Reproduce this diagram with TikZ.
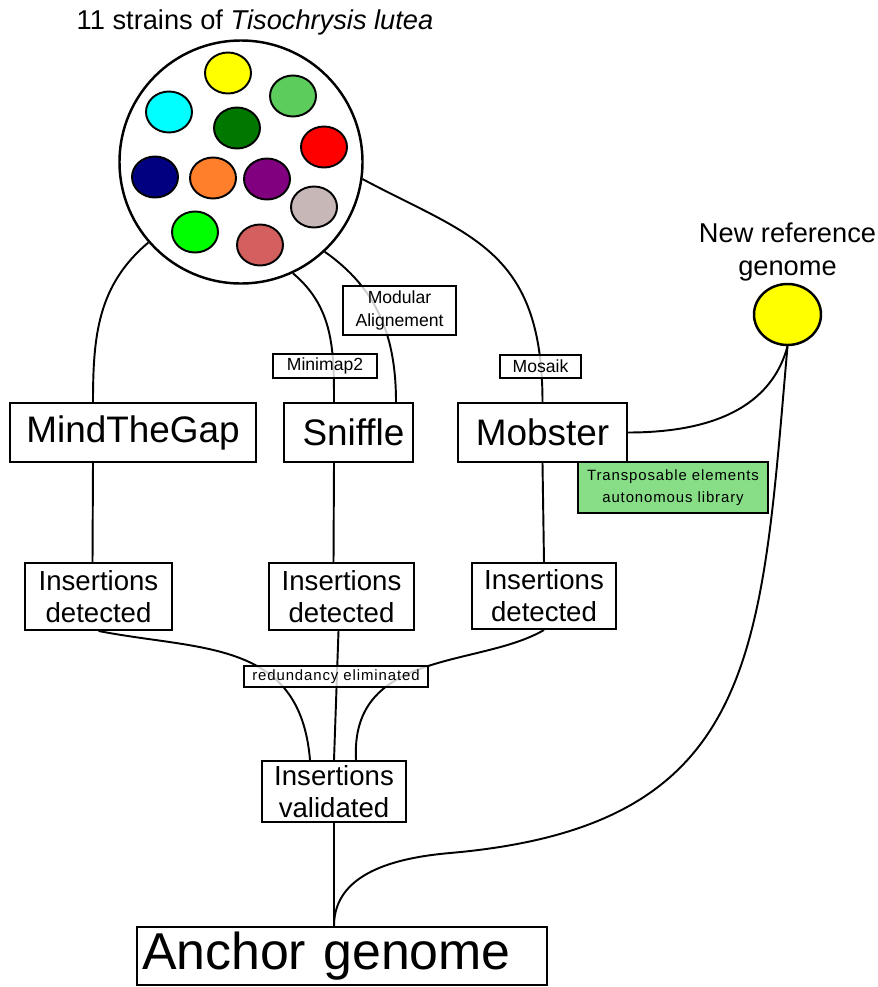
\documentclass[tikz,border=0pt]{standalone}
\usepackage{fontspec}
\setmainfont{Liberation Sans}
\newfontfamily\spacedfont[LetterSpace=6]{Liberation Sans}
\usepackage{tikz}
\usetikzlibrary{shapes.geometric}
\usetikzlibrary{positioning}

\definecolor{sunyellow}{HTML}{FFFF00}
\definecolor{aqua}{HTML}{00FFFF}
\definecolor{leafgreen}{HTML}{5CCD5C}
\definecolor{forestgreen}{HTML}{007800}
\definecolor{brightred}{HTML}{FF0000}
\definecolor{navyblue}{HTML}{000080}
\definecolor{tangerine}{HTML}{FF7F2A}
\definecolor{plum}{HTML}{800080}
\definecolor{ashrose}{HTML}{C8B7B7}
\definecolor{brightgreen}{HTML}{00FF00}
\definecolor{brickrose}{HTML}{D35F5F}
\definecolor{tegreen}{HTML}{87DE87}

\tikzset{
  box/.style={rectangle, draw=black, line width=1.1pt, inner sep=0pt, align=center},
  tool/.style={box, minimum height=1.18cm, font=\fontsize{21}{25}\selectfont},
  insbox/.style={box, font=\fontsize{15.7}{18.2}\selectfont},
  tag/.style={box, line width=1pt, fill=white, fill opacity=0.8, text opacity=1, font=\fontsize{10}{13}\selectfont},
  link/.style={line width=1.1pt},
  strain/.style={draw=black, line width=1.1pt}
}

\begin{document}
\begin{tikzpicture}
            \useasboundingbox (0,0) rectangle (17.54,-19.74);

            % the strains and the tools
            \node [circle, draw=black, line width=1.4pt, minimum size=4.86cm] (strains) at (4.82,-3.24) {};
            \node [above of = strains, node distance = 2.8cm, xshift=0.28cm, font=\fontsize{15.5}{18}\selectfont] (title) {11 strains of \textit{Tisochrysis lutea}};
            \foreach \dx/\dy/\col in {-0.26/1.78/sunyellow, -1.44/1.00/aqua, 1.04/1.32/leafgreen, -0.08/0.68/forestgreen, 1.66/0.30/brightred, -1.72/-0.30/navyblue, -0.56/-0.32/tangerine, 0.52/-0.34/plum, 1.46/-0.90/ashrose, -0.92/-1.40/brightgreen, 0.38/-1.66/brickrose}
                \draw [strain, fill=\col] ([shift={(\dx,\dy)}]strains.center) ellipse (0.46cm and 0.41cm);

            \node [tool, minimum width=4.92cm] (mtg) at (2.66,-8.65) {MindTheGap};
            \node [tool, minimum width=2.58cm, right of = mtg, node distance = 4.31cm] (sniffle) {\hspace{0.2cm}Sniffle};
            \node [tool, minimum width=3.38cm, right of = sniffle, node distance = 3.88cm] (mobster) {Mobster};
            \node [box, fill=tegreen, minimum width=3.8cm, minimum height=1.02cm, right of = mobster, node distance = 2.61cm, yshift=-1.1cm, font=\spacedfont\fontsize{8.5}{12.5}\selectfont] (library) {Transposable elements\\autonomous library};

            \node [ellipse, draw=black, line width=1.4pt, fill=sunyellow, minimum width=1.34cm, minimum height=1.22cm] (newref) at (15.75,-6.29) {};
            \node [above of = newref, node distance = 1.25cm, align=center, font=\fontsize{15.5}{18.7}\selectfont] (newreflabel) {New reference\\genome};

            % insertions
            \node [insbox, minimum width=2.94cm, minimum height=1.34cm, below of = mtg, node distance = 3.28cm, xshift=-0.69cm] (det1) {Insertions\\detected};
            \node [insbox, minimum width=2.90cm, minimum height=1.34cm, below of = sniffle, node distance = 3.28cm, xshift=-0.14cm] (det2) {Insertions\\detected};
            \node [insbox, minimum width=2.88cm, minimum height=1.32cm, below of = mobster, node distance = 3.27cm, xshift=0.03cm] (det3) {Insertions\\detected};
            \node [insbox, minimum width=2.88cm, minimum height=1.22cm, below of = det2, node distance = 3.9cm, xshift=-0.15cm] (valid) {Insertions\\validated};
            \node [box, text width=8.0cm, align=left, inner xsep=0.1cm, minimum height=1.16cm, below of = valid, node distance = 3.29cm, xshift=0.16cm, font=\fontsize{29.5}{34}\selectfont] (anchor) {Anchor genome};
            \coordinate (bend) at (9.0,-17.06);

            \path [link] (strains.221) edge [out=220, in=90] ([xshift=-0.8cm]mtg.north);
            \path [link] (strains.295) edge [out=-40, in=90] ([xshift=-0.29cm]sniffle.north);
            \path [link] (strains.313) edge [out=-35, in=90] ([xshift=0.95cm]sniffle.north);
            \draw [link] (strains.352) .. controls +(2.14,-1.14) and +(0,3.06) .. (mobster.north);
            \path [link] (mobster.east) edge [out=0, in=-105] (newref.south);

            \path [link] ([xshift=-0.8cm]mtg.south) edge ([xshift=-0.12cm]det1.north);
            \path [link] ([xshift=-0.29cm]sniffle.south) edge ([xshift=-0.16cm]det2.north);
            \path [link] (mobster.south) edge (det3.north);

            \draw [link] (det1.south) .. controls +(2.04,-0.4) and +(-0.2,2.42) .. ([xshift=-0.48cm]valid.north);
            \path [link] ([xshift=-0.06cm]det2.south) edge (valid.north);
            \draw [link] (det3.south) .. controls +(-1.3,-0.76) and +(-0.12,2.22) .. ([xshift=0.44cm]valid.north);
            \path [link] (valid.south) edge (valid.south |- anchor.north);
            \draw [link] (newref.south) to [out=-95, in=5, looseness=1.3] (bend) to [out=185, in=90] (valid.south |- anchor.north);

            % labels on the links
            \node [tag, minimum width=2.08cm, minimum height=0.48cm, above of = sniffle, node distance = 1.33cm, xshift=-0.47cm] (minimap) {Minimap2};
            \node [tag, minimum width=2.26cm, minimum height=0.98cm, above of = sniffle, node distance = 2.44cm, xshift=1.02cm] (modular) {Modular\\Alignement};
            \node [tag, minimum width=1.62cm, minimum height=0.46cm, above of = mobster, node distance = 1.32cm, xshift=-0.04cm] (mosaik) {Mosaik};
            \node [tag, minimum width=3.68cm, minimum height=0.42cm, above of = valid, node distance = 2.3cm, xshift=0.04cm, font=\spacedfont\fontsize{8.5}{10}\selectfont] (redundancy) {redundancy eliminated};
\end{tikzpicture}
\end{document}
